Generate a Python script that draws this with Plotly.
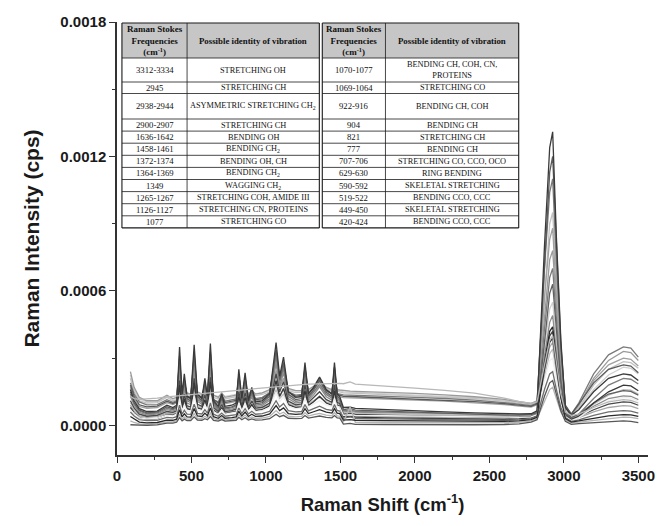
import numpy as np
import plotly.graph_objects as go

# Raman shift sample positions (cm-1) shared by every spectrum
shift_cm = [90, 115, 150, 200, 270, 335, 375, 400, 420, 437,
            452, 470, 495, 518, 540, 570, 590, 607, 627, 648,
            680, 703, 725, 770, 800, 818, 838, 860, 882, 905,
            930, 975, 1025, 1068, 1092, 1118, 1150, 1200, 1240, 1262,
            1285, 1320, 1360, 1405, 1443, 1460, 1478, 1495, 1520, 1565,
            1600, 1800, 2000, 2200, 2400, 2600, 2700, 2780, 2820, 2870,
            2905, 2925, 2950, 2980, 3010, 3050, 3100, 3200, 3300, 3400,
            3450, 3500]

# Raman intensity of each spectrum, in units of 1e-5 cps
spec_x2 = [22.5, 16, 11.8, 10.5, 10.6, 12.8, 11.6, 12, 17, 13.5,
           14.5, 13.6, 13.4, 17.5, 13.8, 13.7, 14.8, 13.9, 18, 13.3,
           12.9, 13.8, 13, 13.4, 13.8, 16, 14, 15.6, 14, 14.8,
           14.2, 14.5, 15.6, 20, 17, 18.5, 16, 15.4, 15.5, 18,
           15.8, 16.8, 17.8, 16.4, 15.8, 17.5, 15.8, 15.6, 15, 14.9,
           14.8, 14.3, 13.8, 13.2, 12.4, 11.2, 10.1, 9.5, 10.5, 36,
           52, 55, 37, 18, 7, 4.5, 8, 16, 22.5, 26,
           25.5, 23]
spec_u2 = [21, 15, 11, 10, 10.2, 12.5, 11, 11.5, 20, 13.5,
           15.5, 13, 12.8, 21, 13.5, 13, 15, 13.2, 21, 12.5,
           11.8, 13, 11.8, 12.3, 12.8, 17, 13.2, 16.5, 13.2, 14.5,
           13.3, 13.8, 15, 23, 18, 20.5, 15.5, 14.6, 14.8, 19.5,
           15.2, 16.5, 18, 16, 15.3, 18.5, 15.3, 15, 14.5, 14.4,
           14.3, 13.8, 13.3, 12.7, 12, 10.8, 9.8, 9.2, 10, 60,
           90, 95, 63, 29, 8, 4.5, 8, 18, 25, 28.5,
           28, 25.5]
spec_u1 = [24, 17, 12.5, 11, 11, 13.5, 12, 12.5, 24, 15.5,
           18, 14.5, 14, 25, 15, 14, 17, 14.5, 25, 13.5,
           12.5, 14.5, 12.5, 13, 13.5, 19, 14, 18.5, 14, 15.5,
           14, 14.5, 16, 27, 20, 23.5, 16.5, 15.5, 15.5, 22,
           16, 17.5, 19.5, 17, 16, 21, 16, 15.8, 15.5, 15.3,
           15.2, 14.8, 14.3, 13.6, 12.8, 11.6, 10.5, 9.8, 11, 50,
           74, 78, 52, 25, 8, 5, 9, 21, 29, 33,
           32.5, 29]
spec_x1 = [17, 12, 8.5, 7.6, 8, 10.2, 9.3, 10, 22, 12,
           15.5, 11.5, 11, 23, 12, 11, 14.5, 11.5, 23.5, 10.5,
           9.5, 11.5, 9.7, 10.1, 10.7, 16.5, 11.2, 15.8, 11, 12.8,
           11, 11.4, 13, 24.5, 17, 21, 13.6, 12.3, 12.6, 19.5,
           13.2, 15, 17.5, 14, 13, 19.5, 13, 12.7, 12.4, 12.3,
           12.2, 11.8, 11.3, 10.8, 10.2, 9.3, 8.6, 8.2, 9.2, 57,
           83, 88, 58, 27, 8, 4.8, 9, 20, 27, 30,
           29.5, 26.5]
spec_u3 = [19, 14, 10.5, 9.2, 9.3, 11.5, 10.3, 11, 28, 13,
           19, 12.5, 12, 29, 13, 12, 17.5, 12.5, 29.5, 11.5,
           10.5, 13, 10.8, 11.2, 11.8, 21, 12.2, 20, 12, 15,
           12, 12.5, 14.5, 31, 20, 26, 15, 13.5, 13.8, 24,
           14.5, 16.5, 20, 15.5, 14.3, 24, 14.3, 14, 13.6, 13.5,
           13.4, 13, 12.5, 12, 11.3, 10.2, 9.4, 8.8, 10, 70,
           104, 110, 72, 34, 9, 5, 10, 23, 31.5, 35,
           34.5, 30.5]
spec_x6 = [18, 13, 9.2, 8.3, 8.6, 10.8, 9.8, 10.5, 30, 13.5,
           20.5, 13, 12.5, 31, 13.5, 12.5, 19, 13, 32, 11.5,
           10, 13.8, 10.2, 10.6, 11.2, 22.5, 12, 21.5, 11.7, 16,
           11.5, 12, 14.5, 33, 21, 28, 15, 13, 13.5, 26,
           14.3, 16.8, 21, 15.6, 14, 26, 14, 13.5, 13, 12.9,
           12.8, 12.4, 11.9, 11.3, 10.6, 9.7, 9, 8.5, 9.6, 74,
           113, 120, 78, 36, 9, 5, 9.5, 19, 25, 27,
           26.5, 23.5]
spec_x4 = [14, 10, 6.4, 5.2, 5.5, 7.6, 7, 7.8, 26, 11,
           18, 11, 10.2, 28, 11.6, 10.2, 17, 11, 29, 9.5,
           7.2, 11.5, 7.3, 7.8, 8.6, 20, 10.2, 19, 9.5, 14,
           9, 9.5, 12, 31, 19, 25.5, 13, 10.8, 11.2, 23.5,
           12, 14.7, 18.5, 13.8, 12.2, 23.5, 12.2, 11.3, 6.5, 6.9,
           6.3, 5.9, 5.5, 5.1, 4.8, 4.4, 4.4, 4.6, 5.6, 43,
           66, 70, 46, 21, 6, 3.3, 5, 12, 18, 21,
           20.6, 18.5]
spec_m3 = [13, 9, 5.8, 4.7, 5, 7, 6.4, 7.2, 25, 10.5,
           17, 10, 9.3, 26.5, 10.8, 9.4, 16, 10.2, 27, 8.8,
           6.8, 10.6, 6.8, 7.2, 8, 18.5, 9.4, 17.5, 8.8, 12.8,
           8.4, 8.8, 11.2, 28.5, 17.5, 23.5, 12, 10, 10.4, 21.5,
           11.2, 13.6, 17.2, 12.8, 11.3, 21.5, 11.3, 10.6, 6, 6.3,
           5.9, 5.5, 5.1, 4.8, 4.5, 4.2, 4.2, 4.4, 5.5, 31,
           46, 49, 33, 15, 5.5, 3, 4.5, 8.5, 12, 13.2,
           13, 11.5]
spec_m5 = [9, 6.5, 4.3, 3.6, 3.9, 5.5, 5.1, 5.8, 16, 7.8,
           11.5, 7.6, 7.3, 17, 8.2, 7.5, 11.2, 8.1, 17.5, 7.1,
           5.6, 8.2, 5.6, 6, 6.6, 12.5, 7.6, 12, 7.2, 9.5,
           7, 7.4, 9, 18.5, 12.8, 16, 9.6, 8.4, 8.7, 15,
           9.2, 11, 13, 10.3, 9.4, 15, 9.4, 9, 4.2, 4.5,
           4.1, 3.9, 3.6, 3.4, 3.2, 3.1, 3.2, 3.6, 4.6, 24,
           35, 37, 25, 11, 4.5, 2.5, 3.5, 6, 8, 8.8,
           8.6, 7.5]
spec_x5 = [10, 7.5, 5, 4.2, 4.4, 6, 5.6, 6.2, 14, 8,
           10.5, 8, 7.7, 14.5, 8.5, 8, 10.5, 8.5, 15, 7.7,
           6.3, 8.3, 6.3, 6.7, 7.2, 11.5, 8, 11, 7.6, 9.2,
           7.5, 7.9, 9.3, 16, 12, 14, 9.8, 8.9, 9.2, 13.5,
           9.6, 11, 12.5, 10.5, 9.8, 13.5, 9.8, 9.5, 5.5, 5.7,
           5.4, 5.2, 5, 4.8, 4.6, 4.3, 4.2, 4.3, 5.2, 22,
           32, 34, 23, 11, 4.8, 2.6, 4.5, 9.5, 13.5, 16,
           15.7, 14]
spec_m2 = [15, 10, 6.8, 5.6, 5.9, 8.3, 7.4, 8.3, 31, 12.5,
           20.5, 12, 11, 32.5, 12.8, 11, 19, 12, 33, 10.2,
           7.8, 12.5, 7.8, 8.3, 9.2, 22.5, 11, 21, 10.2, 15.5,
           9.7, 10.2, 13, 34, 20.5, 28, 14, 11.5, 12, 25.5,
           13, 15.8, 20, 14.8, 13, 25.5, 13, 12, 7, 7.6,
           6.8, 6.3, 5.8, 5.4, 5, 4.6, 4.6, 4.8, 5.8, 39,
           59, 63, 42, 19, 6, 3.5, 5, 10, 14, 15.5,
           15.2, 13.5]
spec_m1 = [16, 11, 7.5, 6.2, 6.4, 9, 8, 9, 35, 14,
           23, 13, 12, 36, 14, 12, 21, 13, 36.5, 11,
           8.5, 14, 8.5, 9, 10, 25, 12, 23.5, 11, 17,
           10.5, 11, 14, 37, 22, 30.5, 15, 12.5, 13, 28,
           14, 17, 21.6, 16, 14, 28, 14, 13, 8, 8.2,
           7.6, 7, 6.5, 6, 5.6, 5.2, 5.1, 5.2, 6.5, 80,
           124, 131, 84, 38, 8, 4.5, 7, 15, 21, 23,
           22.5, 20]
spec_m4 = [11, 7.8, 5, 4.1, 4.5, 6.2, 5.8, 6.5, 20, 9,
           14, 8.7, 8.3, 21, 9.4, 8.5, 13.5, 9.2, 21.5, 8,
           6.2, 9.3, 6.2, 6.6, 7.3, 15, 8.5, 14.5, 8, 11,
           7.7, 8.1, 10, 23, 15, 19.5, 10.8, 9.2, 9.6, 18,
           10.2, 12.3, 15, 11.5, 10.3, 18, 10.3, 9.8, 5, 5.4,
           4.9, 4.6, 4.3, 4, 3.8, 3.6, 3.7, 4, 5, 27,
           40, 42, 28, 13, 5, 2.8, 4, 7, 9.5, 10.5,
           10.3, 9]
spec_x3 = [8, 5.6, 3.5, 2.8, 3, 4.8, 4.6, 5.3, 18, 7.5,
           12, 7.5, 7, 19, 7.8, 7.2, 11.5, 7.8, 19.5, 6.8,
           5.2, 8, 5.3, 5.7, 6.3, 13, 7.3, 12.5, 6.9, 9.3,
           6.6, 7, 8.8, 20, 13, 16.5, 9.3, 7.9, 8.3, 15.5,
           8.8, 10.6, 13, 10, 9, 15.5, 9, 8.6, 3.8, 4.1,
           3.7, 3.4, 3.2, 3, 2.8, 2.7, 2.9, 3.4, 4.4, 25,
           37, 39, 26, 12, 4.2, 2.3, 4, 10, 15, 18,
           17.6, 15.5]
spec_w = [7, 5.2, 3.4, 2.9, 3.2, 4.6, 4.3, 5, 12, 6.5,
          9, 6.5, 6.3, 13, 7, 6.5, 9.2, 7, 13.5, 6.2,
          5, 7, 5, 5.4, 5.9, 10, 6.6, 9.7, 6.3, 8,
          6.2, 6.6, 8, 14.5, 10.5, 12.8, 8.5, 7.5, 7.8, 12,
          8.2, 9.6, 11, 9.2, 8.5, 12, 8.5, 8.2, 4.5, 4.7,
          4.5, 4.4, 4.3, 4.2, 4, 3.7, 3.6, 3.8, 4.8, 20,
          29, 30, 20, 9, 4, 2.2, 3.5, 8, 11, 12.5,
          12.2, 10.8]
spec_d1 = [6, 4.2, 2.6, 2.1, 2.3, 3.6, 3.4, 3.9, 9, 5,
           6.8, 5, 4.9, 9.5, 5.4, 5.1, 7, 5.5, 10, 5,
           4.1, 5.5, 4.1, 4.4, 4.8, 7.8, 5.3, 7.5, 5.1, 6.3,
           5, 5.3, 6.3, 11, 8.2, 9.8, 6.6, 6, 6.2, 9.3,
           6.5, 7.5, 8.6, 7.2, 6.7, 9.3, 6.7, 6.4, 3.2, 3.8,
           3.1, 2.9, 2.7, 2.5, 2.4, 2.3, 2.5, 3, 4, 16,
           23, 24, 16, 8, 3.5, 1.8, 2.5, 4.5, 6, 6.6,
           6.4, 5.5]
spec_d3 = [2, 1.3, 0.7, 0.4, 0.7, 1.6, 1.6, 2, 5, 2.8,
           3.8, 2.8, 2.8, 5.3, 3.2, 3.1, 4.1, 3.3, 5.5, 3,
           2.5, 3.4, 2.5, 2.7, 3, 4.8, 3.3, 4.6, 3.1, 3.8,
           3.1, 3.3, 4, 6.6, 5.1, 5.9, 4.1, 3.8, 4, 5.7,
           4.2, 4.8, 5.4, 4.6, 4.3, 5.7, 4.3, 4.1, 1.5, 8.2,
           1.4, 1.3, 1.2, 1.2, 1.1, 1.2, 1.4, 2, 3, 11,
           16, 17, 11.5, 6, 2.4, 1.1, 1.5, 2.3, 3, 3.7,
           3.6, 3]
spec_d2 = [4, 2.8, 1.5, 1.1, 1.3, 2.4, 2.3, 2.8, 7, 3.8,
           5.2, 3.8, 3.7, 7.5, 4.2, 4, 5.5, 4.3, 7.8, 3.9,
           3.2, 4.4, 3.2, 3.5, 3.8, 6.3, 4.2, 6, 4, 5,
           4, 4.2, 5.1, 8.8, 6.6, 7.8, 5.3, 4.9, 5.1, 7.5,
           5.3, 6.1, 7, 5.9, 5.5, 7.5, 5.5, 5.3, 2.4, 2.6,
           2.3, 2.1, 2, 1.9, 1.8, 1.8, 2, 2.6, 3.6, 28,
           42, 44, 29, 13, 3, 1.5, 2, 3.3, 4.3, 4.8,
           4.7, 4]
spec_d4 = [0.3, 0.2, 0.1, 0, 0.2, 1, 1, 1.4, 3.5, 2,
           2.8, 2.1, 2.1, 3.8, 2.4, 2.3, 3, 2.5, 4, 2.2,
           1.9, 2.6, 1.9, 2.1, 2.3, 3.6, 2.5, 3.4, 2.4, 2.9,
           2.4, 2.5, 3, 5, 3.9, 4.5, 3.2, 3, 3.1, 4.4,
           3.3, 3.7, 4.2, 3.6, 3.4, 4.4, 3.4, 3.3, 0.6, 0.9,
           0.5, 0.4, 0.3, 0.3, 0.3, 0.4, 0.7, 1.5, 2.5, 13,
           19, 20, 13.5, 6.5, 1.8, 0.5, 0.8, 1.2, 1.6, 2,
           1.8, 1.2]
spec_l = [13, 12, 11.6, 11.8, 12.2, 12.7, 13, 13.1, 13.3, 13.4,
          13.5, 13.6, 13.8, 13.9, 14, 14.2, 14.3, 14.4, 14.5, 14.6,
          14.8, 15, 15.1, 15.4, 15.6, 15.7, 15.8, 16, 16.1, 16.2,
          16.4, 16.7, 17, 17.3, 17.4, 17.6, 17.8, 18, 18.2, 18.3,
          18.4, 18.5, 18.6, 18.7, 18.8, 18.8, 18.8, 18.8, 18.6, 19.4,
          18.4, 17.6, 16.6, 15.6, 14.4, 12.2, 10.6, 9.8, 10.5, 27,
          38, 40, 28, 14, 6, 4.5, 5, 8, 10.5, 11.5,
          11.2, 10]

spectra = [spec_x2, spec_u2, spec_u1, spec_x1, spec_u3, spec_x6, spec_x4,
           spec_m3, spec_m5, spec_x5, spec_m2, spec_m1, spec_m4, spec_x3,
           spec_w, spec_d1, spec_d3, spec_d2, spec_d4, spec_l]
line_colors = ["#d0d0d0", "#c2c2c2", "#9a9a9a", "#a0a0a0", "#7a7a7a", "#5a5a5a",
               "#7c7c7c", "#8c8c8c", "#a8a8a8", "#bdbdbd", "#606060", "#3a3a3a",
               "#4a4a4a", "#383838", "#efefef", "#6e6e6e", "#b4b4b4", "#2a2a2a",
               "#585858", "#b8b8b8"]

# Band assignment table shown inside the plot
freq_left = ["3312-3334", "2945", "2938-2944", "2900-2907", "1636-1642", "1458-1461",
             "1372-1374", "1364-1369", "1349", "1265-1267", "1126-1127", "1077"]
ident_left = ["STRETCHING OH", "STRETCHING CH", "ASYMMETRIC STRETCHING CH<sub>2</sub>",
              "STRETCHING CH", "BENDING OH", "BENDING CH<sub>2</sub>", "BENDING OH, CH",
              "BENDING CH<sub>2</sub>", "WAGGING CH<sub>2</sub>", "STRETCHING COH, AMIDE III",
              "STRETCHING CN, PROTEINS", "STRETCHING CO"]
freq_right = ["1070-1077", "1069-1064", "922-916", "904", "821", "777", "707-706",
              "629-630", "590-592", "519-522", "449-450", "420-424"]
ident_right = ["BENDING CH, COH, CN,<br>PROTEINS", "STRETCHING CO", "BENDING CH, COH",
               "BENDING CH", "STRETCHING CH", "BENDING CH", "STRETCHING CO, CCO, OCO",
               "RING BENDING", "SKELETAL STRETCHING", "BENDING CCO, CCC",
               "SKELETAL STRETCHING", "BENDING CCO, CCC"]
header_freq = "<b>Raman Stokes<br>Frequencies<br>(cm<sup>-1</sup>)</b>"
header_ident = "<b>Possible identity of vibration</b>"

x_tick_vals = [0, 500, 1000, 1500, 2000, 2500, 3000, 3500]
y_tick_vals = [0.0, 0.0006, 0.0012, 0.0018]

W, H = 662, 526
PL, PR, PT, PB = 117, 655, 22, 455  # plot area in pixels

fig = go.Figure()
x = np.array(shift_cm)
for spec, col in zip(spectra, line_colors):
    fig.add_trace(go.Scatter(x=x, y=np.array(spec) * 1e-5, mode="lines",
                             line=dict(color=col, width=1.3),
                             hoverinfo="skip", showlegend=False))


def xp(px):
    return (px - PL) / (PR - PL)


def yp(py):
    return (PB - py) / (PB - PT)


# table geometry (pixels)
tables = [([122, 188, 322], freq_left, ident_left),
          ([325, 389, 524], freq_right, ident_right)]
row_h = [35, 24, 11.5, 25.5] + [12.1] * 9
row_edges = [23.0]
for h in row_h:
    row_edges.append(row_edges[-1] + h)

shapes = []
annotations = []
line_col = "#1a1a1a"
serif = "Liberation Serif"
for cols, freqs, idents in tables:
    shapes.append(dict(type="rect", xref="paper", yref="paper",
                       x0=xp(cols[0]), x1=xp(cols[2]), y0=yp(row_edges[0]), y1=yp(row_edges[1]),
                       fillcolor="#c6c6c6", line=dict(width=0), layer="above"))
    for i, ry in enumerate(row_edges):
        shapes.append(dict(type="line", xref="paper", yref="paper",
                           x0=xp(cols[0]), x1=xp(cols[2]), y0=yp(ry), y1=yp(ry),
                           line=dict(color=line_col, width=1.1 if i in (0, len(row_edges) - 1) else 0.8),
                           layer="above"))
    for j, cx in enumerate(cols):
        shapes.append(dict(type="line", xref="paper", yref="paper",
                           x0=xp(cx), x1=xp(cx), y0=yp(row_edges[0]), y1=yp(row_edges[-1]),
                           line=dict(color=line_col, width=1.1 if j != 1 else 0.8),
                           layer="above"))
    hy = (row_edges[0] + row_edges[1]) / 2
    annotations.append(dict(xref="paper", yref="paper", x=xp((cols[0] + cols[1]) / 2), y=yp(hy),
                            text=header_freq, showarrow=False, xanchor="center", yanchor="middle",
                            font=dict(family=serif, size=9, color="#111")))
    annotations.append(dict(xref="paper", yref="paper", x=xp((cols[1] + cols[2]) / 2), y=yp(hy),
                            text=header_ident, showarrow=False, xanchor="center", yanchor="middle",
                            font=dict(family=serif, size=8.8, color="#111")))
    for r in range(len(freqs)):
        cy = (row_edges[r + 1] + row_edges[r + 2]) / 2
        annotations.append(dict(xref="paper", yref="paper", x=xp((cols[0] + cols[1]) / 2), y=yp(cy),
                                text=freqs[r], showarrow=False, xanchor="center", yanchor="middle",
                                font=dict(family=serif, size=8.7, color="#111")))
        annotations.append(dict(xref="paper", yref="paper", x=xp((cols[1] + cols[2]) / 2), y=yp(cy),
                                text=idents[r], showarrow=False, xanchor="center", yanchor="middle",
                                font=dict(family=serif, size=8.3, color="#111")))

axis_font = dict(family="Liberation Sans", size=15, color="#1a1a1a", weight="bold")
fig.update_layout(
    width=W, height=H,
    margin=dict(l=PL, r=W - PR, t=PT, b=H - PB),
    paper_bgcolor="white", plot_bgcolor="white",
    shapes=shapes, annotations=annotations,
    xaxis=dict(range=[0, 3565], tickvals=x_tick_vals, ticks="outside", ticklen=6, tickwidth=1.3,
               tickcolor="#333", showline=True, linecolor="#333", linewidth=1.5,
               showgrid=False, zeroline=False, tickfont=axis_font,
               minor=dict(dtick=250, tick0=0, ticks="outside", ticklen=3.5, tickwidth=1.2, tickcolor="#333"),
               title=dict(text="Raman Shift (cm<sup>-1</sup>)", standoff=15,
                          font=dict(family="Liberation Sans", size=18.5, color="#1a1a1a", weight="bold"))),
    yaxis=dict(range=[-0.000132, 0.0018001], tickvals=y_tick_vals, tickformat=".4f",
               ticks="outside", ticklen=6, tickwidth=1.3, tickcolor="#333",
               showline=True, linecolor="#333", linewidth=1.5,
               showgrid=False, zeroline=False, tickfont=axis_font,
               minor=dict(dtick=0.0003, tick0=0, ticks="outside", ticklen=3.5, tickwidth=1.2, tickcolor="#333"),
               title=dict(text="Raman Intensity (cps)", standoff=15,
                          font=dict(family="Liberation Sans", size=21, color="#1a1a1a", weight="bold"))),
)

fig.write_html("out.html")
